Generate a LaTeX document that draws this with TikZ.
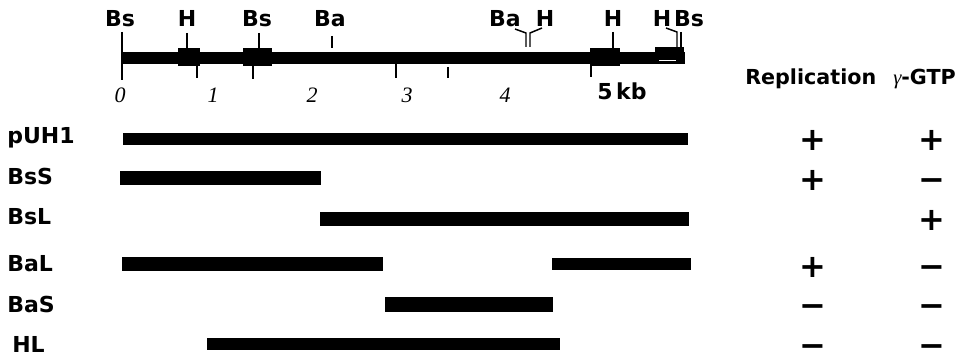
\documentclass[tikz,border=0pt]{standalone}
\usepackage{fontspec}
\newfontfamily\dejavu{DejaVu Sans}
\newfontfamily\libserif{Liberation Serif}
\tikzset{
  site/.style={font=\dejavu\bfseries\fontsize{16.5}{19}\selectfont, anchor=base, inner sep=0pt},
  rowlabel/.style={font=\dejavu\bfseries\fontsize{16.5}{19}\selectfont, anchor=base west, inner sep=0pt},
  head/.style={font=\dejavu\bfseries\fontsize{15.5}{18}\selectfont, anchor=base west, inner sep=0pt},
  kbnum/.style={font=\libserif\itshape\fontsize{16.5}{18}\selectfont, anchor=base, inner sep=0pt},
  sign/.style={font=\dejavu\bfseries\fontsize{24}{26}\selectfont, inner sep=0pt},
  fragment/.style={fill=black},
  sitetick/.style={line width=1.5pt},
}
% a sign glyph lowered so that its centre sits on the node centre
\newcommand\signglyph[1]{\raisebox{-0.355em}[0.36em][0pt]{#1}\rule[-0.36em]{0pt}{0.36em}}
\newcommand\plussign{\signglyph{+}}
\newcommand\minussign{\signglyph{−}}
\begin{document}
\begin{tikzpicture}[x=0.75pt, y=-0.75pt]
\useasboundingbox[fill=white] (0,0) rectangle (971,356);

% restriction map of pUH1
\fill (122,52) rectangle (685,64);
\fill (178,48) rectangle (200,66);
\fill (243,48) rectangle (272,66);
\fill (590,48) rectangle (620,66);
\fill (655,47) rectangle (684,64);
\draw[white, line width=0.5pt] (659,60.5) -- (676,60.5);

% site labels
\node[site] (bs1) at (120,27) {Bs};
\node[site] (h1)  at (187,27) {H};
\node[site] (bs2) at (257,27) {Bs};
\node[site] (ba1) at (330,27) {Ba};
\node[site] (ba2) at (505,27) {Ba};
\node[site] (h2)  at (545,27) {H};
\node[site] (h3)  at (613,27) {H};
\node[site] (h4)  at (662,27) {H};
\node[site] (bs3) at (689,27) {Bs};

% site ticks
\draw[sitetick] (122,32) -- (122,80);
\draw[sitetick] (187,33) -- (187,49);
\draw[sitetick] (259,33) -- (259,49);
\draw[sitetick] (332,36) -- (332,48);
\draw[sitetick] (613,32) -- (613,49);
\draw[line width=1.1pt] (515,29) -- (526,33) -- (526,47);
\draw[line width=1.1pt] (542,28) -- (530,33) -- (530,47);
\draw[line width=1.1pt] (666,28) -- (677,32) -- (677,64);
\draw[line width=1.1pt] (681,32) -- (681,64);

% kilobase scale ticks
\draw[sitetick] (197,64) -- (197,78);
\draw[sitetick] (253,64) -- (253,79);
\draw[sitetick] (396,64) -- (396,78);
\draw[sitetick] (448,67) -- (448,78);
\draw[sitetick] (591,64) -- (591,77);

\node[kbnum] (k0) at (120,103) {0};
\node[kbnum] (k1) at (213,103) {1};
\node[kbnum] (k2) at (312,103) {2};
\node[kbnum] (k3) at (407,103) {3};
\node[kbnum] (k4) at (505,103) {4};
\node[site, anchor=base west] (k5) at (597,100) {5\,kb};

% column headings
\node[head] (rep) at (745,85) {Replication};
\node[head] (gtp) at (893,85) {{\libserif\itshape\mdseries γ}-GTP};

% fragments
\node[rowlabel] (pUH1) at (7,144) {pUH1};
\node[rowlabel] (BsS)  at (7,185) {BsS};
\node[rowlabel] (BsL)  at (7,224) {BsL};
\node[rowlabel] (BaL)  at (7,272) {BaL};
\node[rowlabel] (BaS)  at (7,312) {BaS};
\node[rowlabel] (HL)   at (12,352) {HL};

\fill[fragment] (123,133) rectangle (688,145);
\fill[fragment] (120,171) rectangle (321,185);
\fill[fragment] (320,212) rectangle (689,226);
\fill[fragment] (122,257) rectangle (383,271);
\fill[fragment] (552,258) rectangle (691,270);
\fill[fragment] (385,297) rectangle (553,312);
\fill[fragment] (207,338) rectangle (560,350);

% activity results
\node[sign] (r1) at (813,139) {\plussign};
\node[sign] (g1) at (932,139) {\plussign};
\node[sign] (r2) at (813,179) {\plussign};
\node[sign] (g2) at (932,179) {\minussign};
\node[sign] (g3) at (932,219) {\plussign};
\node[sign] (r4) at (813,266) {\plussign};
\node[sign] (g4) at (932,266) {\minussign};
\node[sign] (r5) at (813,305) {\minussign};
\node[sign] (g5) at (932,305) {\minussign};
\node[sign] (r6) at (813,345) {\minussign};
\node[sign] (g6) at (932,345) {\minussign};
\end{tikzpicture}
\end{document}
